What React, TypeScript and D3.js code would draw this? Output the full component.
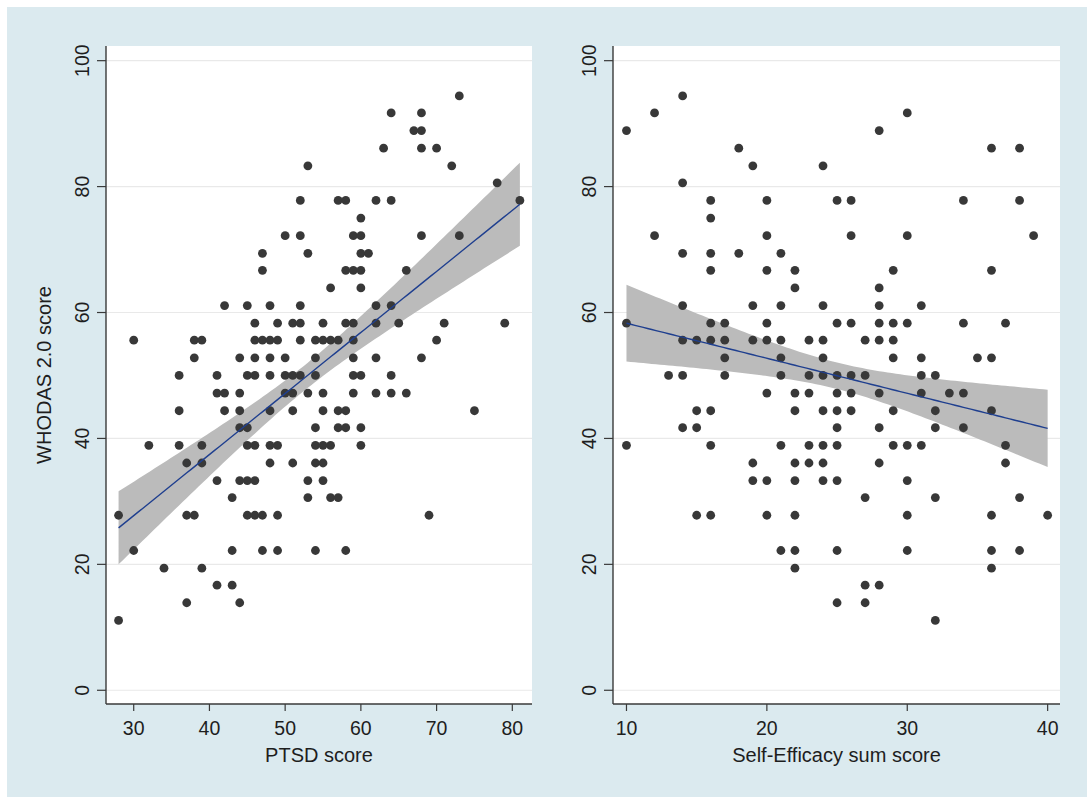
import React from 'react';
import * as d3 from 'd3';

// ---------- data ----------
const Y_TICKS = [0, 20, 40, 60, 80, 100];
const PTSD_TICKS = [30, 40, 50, 60, 70, 80];
const SE_TICKS = [10, 20, 30, 40];
const Y_TITLE = 'WHODAS 2.0 score';
const PTSD_TITLE = 'PTSD score';
const SE_TITLE = 'Self-Efficacy sum score';

// rows: [WHODAS score, list of x values at that score]
const ptsdRows: [number, number[]][] = [
  [94.4, [73]],
  [91.7, [64, 68]],
  [88.9, [67, 68]],
  [86.1, [63, 68, 70]],
  [83.3, [53, 72]],
  [80.6, [78]],
  [77.8, [52, 57, 58, 62, 64, 81]],
  [75.0, [60]],
  [72.2, [50, 52, 59, 60, 68, 73]],
  [69.4, [47, 53, 60, 61]],
  [66.7, [47, 58, 59, 60, 66]],
  [63.9, [56, 60]],
  [61.1, [42, 45, 48, 52, 62, 64]],
  [58.3, [46, 49, 51, 52, 55, 58, 59, 62, 65, 71, 79]],
  [55.6, [30, 38, 39, 46, 47, 48, 49, 52, 54, 55, 56, 57, 59, 70]],
  [52.8, [38, 44, 46, 48, 50, 54, 59, 62, 68]],
  [50.0, [36, 41, 45, 46, 48, 50, 51, 52, 54, 59, 60, 64]],
  [47.2, [41, 42, 44, 50, 51, 53, 55, 59, 62, 64, 66]],
  [44.4, [36, 42, 44, 48, 51, 55, 57, 58, 75]],
  [41.7, [44, 45, 54, 57, 58, 60]],
  [38.9, [32, 36, 39, 45, 46, 48, 49, 54, 55, 56, 60]],
  [36.1, [37, 39, 48, 51, 54, 55]],
  [33.3, [41, 44, 45, 46, 53, 55]],
  [30.6, [43, 53, 56, 57]],
  [27.8, [28, 37, 38, 45, 46, 47, 49, 69]],
  [22.2, [30, 43, 47, 49, 54, 58]],
  [19.4, [34, 39]],
  [16.7, [41, 43]],
  [13.9, [37, 44]],
  [11.1, [28]],
];

const seRows: [number, number[]][] = [
  [94.4, [14]],
  [91.7, [12, 30]],
  [88.9, [10, 28]],
  [86.1, [18, 36, 38]],
  [83.3, [19, 24]],
  [80.6, [14]],
  [77.8, [16, 20, 25, 26, 34, 38]],
  [75.0, [16]],
  [72.2, [12, 20, 26, 30, 39]],
  [69.4, [14, 16, 18, 21]],
  [66.7, [16, 20, 22, 29, 36]],
  [63.9, [22, 28]],
  [61.1, [14, 19, 21, 24, 28, 31]],
  [58.3, [10, 16, 17, 20, 25, 26, 28, 29, 30, 34, 37]],
  [55.6, [14, 15, 16, 17, 19, 20, 21, 23, 24, 27, 28, 29]],
  [52.8, [17, 21, 24, 29, 31, 35, 36]],
  [50.0, [13, 14, 17, 21, 23, 24, 25, 26, 27, 31, 32]],
  [47.2, [20, 22, 23, 25, 26, 28, 31, 33, 34]],
  [44.4, [15, 16, 22, 24, 25, 26, 29, 32, 36]],
  [41.7, [14, 15, 25, 28, 32, 34]],
  [38.9, [10, 16, 21, 23, 24, 25, 29, 30, 31, 37]],
  [36.1, [19, 22, 23, 24, 28, 37]],
  [33.3, [19, 20, 22, 24, 25, 30]],
  [30.6, [27, 32, 38]],
  [27.8, [15, 16, 20, 22, 30, 36, 40]],
  [22.2, [21, 22, 25, 30, 36, 38]],
  [19.4, [22, 36]],
  [16.7, [27, 28]],
  [13.9, [25, 27]],
  [11.1, [32]],
];

// linear fit with 95% CI:
// fitted value at both ends, CI half-width at both ends and at its narrowest
type Fit = { xFrom: number; xTo: number; yFrom: number; yTo: number; halfFrom: number; halfTo: number; halfMin: number };
const ptsdFit: Fit = { xFrom: 28, xTo: 81, yFrom: 25.8, yTo: 77.2, halfFrom: 5.8, halfTo: 6.6, halfMin: 2.0 };
const seFit: Fit = { xFrom: 10, xTo: 40, yFrom: 58.3, yTo: 41.6, halfFrom: 6.1, halfTo: 6.15, halfMin: 2.1 };

// ---------- layout / style ----------
const W = 1087;
const H = 797;
const PLOT_TOP = 46;
const PLOT_BOTTOM = 704;
const Y_DOMAIN: [number, number] = [-2.18, 102.33];
const FONT = "'Liberation Sans', Arial, Helvetica, sans-serif";
const BG = '#dbeaef';
const TEXT = '#1e1e1e';
const AXIS = '#3a3a3a';

type Pt = { x: number; y: number };

function flatten(rows: [number, number[]][]): Pt[] {
  return rows.flatMap(([y, xs]) => xs.map((x) => ({ x, y })));
}

function fitCurves(f: Fit) {
  const pred = d3.scaleLinear().domain([f.xFrom, f.xTo]).range([f.yFrom, f.yTo]);
  const m2 = f.halfMin * f.halfMin;
  const r = Math.sqrt((f.halfTo * f.halfTo - m2) / (f.halfFrom * f.halfFrom - m2));
  const xc = (f.xTo + r * f.xFrom) / (1 + r);
  const k = (f.halfFrom * f.halfFrom - m2) / ((xc - f.xFrom) * (xc - f.xFrom));
  const half = (x: number) => Math.sqrt(m2 + k * (x - xc) * (x - xc));
  return { pred, half };
}

type PanelProps = {
  x0: number;
  x1: number;
  xDomain: [number, number];
  xTicks: number[];
  rows: [number, number[]][];
  fit: Fit;
  xTitle: string;
  yTitle?: string;
};

function Panel({ x0, x1, xDomain, xTicks, rows, fit, xTitle, yTitle }: PanelProps) {
  const xs = d3.scaleLinear().domain(xDomain).range([x0, x1]);
  const ys = d3.scaleLinear().domain(Y_DOMAIN).range([PLOT_BOTTOM, PLOT_TOP]);
  const pts = flatten(rows);
  const { pred, half } = fitCurves(fit);
  const samples = d3.range(0, 101).map((i) => fit.xFrom + ((fit.xTo - fit.xFrom) * i) / 100);

  const area = d3
    .area<number>()
    .x((v) => xs(v))
    .y0((v) => ys(pred(v) - half(v)))
    .y1((v) => ys(pred(v) + half(v)));
  const line = d3
    .line<number>()
    .x((v) => xs(v))
    .y((v) => ys(pred(v)));

  return (
    <g>
      <rect x={x0} y={PLOT_TOP} width={x1 - x0} height={PLOT_BOTTOM - PLOT_TOP} fill="#ffffff" />
      {Y_TICKS.map((t) => (
        <line key={'g' + t} x1={x0} x2={x1} y1={ys(t)} y2={ys(t)} stroke="#e9e9e9" strokeWidth={1.2} />
      ))}
      <path d={area(samples) || ''} fill="#bbbbbb" />
      {pts.map((p, i) => (
        <circle key={i} cx={xs(p.x)} cy={ys(p.y)} r={4.4} fill="#383838" />
      ))}
      <path d={line(samples) || ''} fill="none" stroke="#1f3f8f" strokeWidth={1.4} />

      {/* y axis */}
      <line x1={x0} x2={x0} y1={PLOT_TOP} y2={PLOT_BOTTOM} stroke={AXIS} strokeWidth={1.4} />
      {Y_TICKS.map((t) => (
        <g key={'yt' + t}>
          <line x1={x0 - 9} x2={x0} y1={ys(t)} y2={ys(t)} stroke={AXIS} strokeWidth={1.2} />
          <text
            transform={`translate(${x0 - 17.5},${ys(t)}) rotate(-90)`}
            textAnchor="middle"
            fontSize={19.5}
            fontFamily={FONT}
            fill={TEXT}
          >
            {t}
          </text>
        </g>
      ))}

      {/* x axis */}
      <line x1={x0} x2={x1} y1={PLOT_BOTTOM} y2={PLOT_BOTTOM} stroke={AXIS} strokeWidth={1.4} />
      {xTicks.map((t) => (
        <g key={'xt' + t}>
          <line x1={xs(t)} x2={xs(t)} y1={PLOT_BOTTOM} y2={PLOT_BOTTOM + 7} stroke={AXIS} strokeWidth={1.2} />
          <text x={xs(t)} y={734.5} textAnchor="middle" fontSize={19.5} fontFamily={FONT} fill={TEXT}>
            {t}
          </text>
        </g>
      ))}
      <text x={(x0 + x1) / 2} y={762} textAnchor="middle" fontSize={20} fontFamily={FONT} fill={TEXT}>
        {xTitle}
      </text>
      {yTitle && (
        <text
          transform={`translate(51,${(PLOT_TOP + PLOT_BOTTOM) / 2}) rotate(-90)`}
          textAnchor="middle"
          fontSize={20}
          fontFamily={FONT}
          fill={TEXT}
        >
          {yTitle}
        </text>
      )}
    </g>
  );
}

export default function App() {
  return (
    <svg
      width={W}
      height={H}
      viewBox={`0 0 ${W} ${H}`}
      style={{ position: 'absolute', left: 0, top: 0, display: 'block' }}
    >
      <rect x={0} y={0} width={W} height={H} fill="#ffffff" />
      <rect x={7} y={7} width={W - 7} height={H - 7} fill={BG} />
      <Panel
        x0={106}
        x1={532}
        xDomain={[26.34, 82.6]}
        xTicks={PTSD_TICKS}
        rows={ptsdRows}
        fit={ptsdFit}
        xTitle={PTSD_TITLE}
        yTitle={Y_TITLE}
      />
      <Panel
        x0={613}
        x1={1060}
        xDomain={[9.04, 40.88]}
        xTicks={SE_TICKS}
        rows={seRows}
        fit={seFit}
        xTitle={SE_TITLE}
      />
    </svg>
  );
}
